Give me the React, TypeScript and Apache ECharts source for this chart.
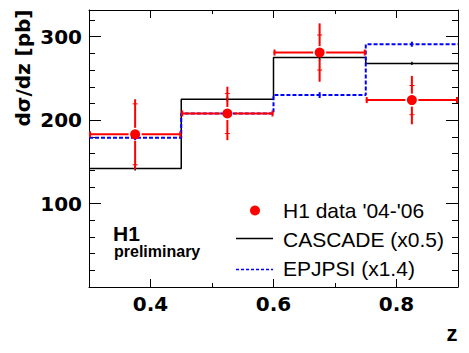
import React, { useEffect, useRef } from "react";
import * as echarts from "echarts";

// ---- data ----
const binEdges = [0.3, 0.45, 0.6, 0.75, 0.9];
const h1Values = [183, 208, 281, 224];
const h1Stat = [36.5, 24, 21, 17.5];
const h1Total = [42, 32, 35, 29];
const cascadeValues = [142, 225, 275, 268];
const cascadeErr = [2.5, 3, 3.5, 2];
const epjpsiValues = [179, 208, 230, 291];
const epjpsiErr = [3, 2.5, 3.5, 3];
const xMajorTicks = [0.4, 0.6, 0.8];
const xMinorTicks = [0.5, 0.7];
const yMajorTicks = [100, 200, 300];
const yMinorTicks = [20, 40, 60, 80, 120, 140, 160, 180, 220, 240, 260, 280, 320];
const legendLabels = ["H1 data '04-'06", "CASCADE (x0.5)", "EPJPSI (x1.4)"];

const X_MIN = 0.3;
const X_MAX = 0.9;
const Y_MIN = 0;
const Y_MAX = 332;

const stepData = (vals: number[]) =>
  binEdges.map((x, i) => [x, vals[Math.min(i, vals.length - 1)]]);

const binData = (vals: number[], e1: number[], e2?: number[]) =>
  vals.map((v, i) => [binEdges[i], binEdges[i + 1], v, e1[i], e2 ? e2[i] : 0]);

const RED = "#ff0000";
const BLUE = "#0000ff";
const NUM_FONT = "DejaVu Sans";
const TXT_FONT = "Liberation Sans";

function makeXAxis(position: "top" | "bottom", ticks: number[], len: number, labels: boolean, line: boolean) {
  return {
    type: "value",
    position,
    min: X_MIN,
    max: X_MAX,
    axisLine: { show: line, onZero: false, lineStyle: { color: "#000", width: 1 } },
    axisTick: { show: true, inside: true, length: len, customValues: ticks, lineStyle: { color: "#000", width: 1 } },
    axisLabel: labels
      ? {
          show: true,
          customValues: ticks,
          formatter: (v: number) => v.toFixed(1),
          color: "#000",
          fontFamily: NUM_FONT,
          fontWeight: "bold",
          fontSize: 20,
          margin: 7,
        }
      : { show: false },
    splitLine: { show: false },
    minorTick: { show: false },
  };
}

function makeYAxis(position: "left" | "right", ticks: number[], len: number, labels: boolean, line: boolean) {
  return {
    type: "value",
    position,
    min: Y_MIN,
    max: Y_MAX,
    axisLine: { show: line, onZero: false, lineStyle: { color: "#000", width: 1 } },
    axisTick: { show: true, inside: true, length: len, customValues: ticks, lineStyle: { color: "#000", width: 1 } },
    axisLabel: labels
      ? {
          show: true,
          customValues: ticks,
          formatter: (v: number) => String(v),
          color: "#000",
          fontFamily: NUM_FONT,
          fontWeight: "bold",
          fontSize: 20,
          margin: 7,
        }
      : { show: false },
    splitLine: { show: false },
    minorTick: { show: false },
  };
}

function h1RenderItem(params: any, api: any) {
  const lo = api.value(0);
  const hi = api.value(1);
  const v = api.value(2);
  const stat = api.value(3);
  const tot = api.value(4);
  const c = (lo + hi) / 2;
  const pL = api.coord([lo, v]);
  const pR = api.coord([hi, v]);
  const pC = api.coord([c, v]);
  const pT = api.coord([c, v + tot]);
  const pB = api.coord([c, v - tot]);
  const sT = api.coord([c, v + stat]);
  const sB = api.coord([c, v - stat]);
  const gap = 6.5;
  const st = { stroke: RED, lineWidth: 2 };
  const thin = { stroke: RED, lineWidth: 1 };
  return {
    type: "group",
    children: [
      { type: "line", shape: { x1: pL[0], y1: pC[1], x2: pC[0] - gap, y2: pC[1] }, style: st },
      { type: "line", shape: { x1: pC[0] + gap, y1: pC[1], x2: pR[0], y2: pC[1] }, style: st },
      { type: "line", shape: { x1: pL[0] + 1, y1: pC[1] - 3, x2: pL[0] + 1, y2: pC[1] + 3 }, style: st },
      { type: "line", shape: { x1: pR[0] - 1, y1: pC[1] - 3, x2: pR[0] - 1, y2: pC[1] + 3 }, style: st },
      { type: "line", shape: { x1: pC[0], y1: pT[1], x2: pC[0], y2: pC[1] - gap }, style: st },
      { type: "line", shape: { x1: pC[0], y1: pC[1] + gap, x2: pC[0], y2: pB[1] }, style: st },
      { type: "line", shape: { x1: pC[0] - 2.5, y1: sT[1], x2: pC[0] + 2.5, y2: sT[1] }, style: thin },
      { type: "line", shape: { x1: pC[0] - 2.5, y1: sB[1], x2: pC[0] + 2.5, y2: sB[1] }, style: thin },
      { type: "circle", shape: { cx: pC[0], cy: pC[1], r: 5 }, style: { fill: RED } },
    ],
  };
}

function mcErrRender(color: string, width: number) {
  return (params: any, api: any) => {
    const lo = api.value(0);
    const hi = api.value(1);
    const v = api.value(2);
    const e = api.value(3);
    const c = (lo + hi) / 2;
    const a = api.coord([c, v + e]);
    const b = api.coord([c, v - e]);
    return {
      type: "line",
      shape: { x1: a[0], y1: a[1], x2: b[0], y2: b[1] },
      style: { stroke: color, lineWidth: width },
    };
  };
}

export default function App() {
  const ref = useRef<HTMLDivElement>(null);

  useEffect(() => {
    if (!ref.current) return;
    const chart = echarts.init(ref.current, null, { renderer: "svg" });
    const option: any = {
      animation: false,
      backgroundColor: "#ffffff",
      grid: { left: 89, right: 11, top: 10, bottom: 66, containLabel: false },
      xAxis: [
        makeXAxis("bottom", xMajorTicks, 8, true, true),
        makeXAxis("bottom", xMinorTicks, 4, false, false),
        makeXAxis("top", xMajorTicks, 8, false, true),
        makeXAxis("top", xMinorTicks, 4, false, false),
      ],
      yAxis: [
        makeYAxis("left", yMajorTicks, 12, true, true),
        makeYAxis("left", yMinorTicks, 6, false, false),
        makeYAxis("right", yMajorTicks, 12, false, true),
        makeYAxis("right", yMinorTicks, 6, false, false),
      ],
      series: [
        {
          name: "CASCADE (x0.5)",
          type: "line",
          step: "end",
          data: stepData(cascadeValues),
          symbol: "none",
          lineStyle: { color: "#000", width: 1.5 },
          z: 2,
        },
        {
          name: "CASCADE err",
          type: "custom",
          data: binData(cascadeValues, cascadeErr),
          renderItem: mcErrRender("#000", 1.5),
          z: 2,
        },
        {
          name: "EPJPSI (x1.4)",
          type: "line",
          step: "end",
          data: stepData(epjpsiValues),
          symbol: "none",
          lineStyle: { color: BLUE, width: 2, type: [4, 2] },
          z: 3,
        },
        {
          name: "EPJPSI err",
          type: "custom",
          data: binData(epjpsiValues, epjpsiErr),
          renderItem: mcErrRender(BLUE, 2),
          z: 3,
        },
        {
          name: "H1 data '04-'06",
          type: "custom",
          data: binData(h1Values, h1Stat, h1Total),
          renderItem: h1RenderItem,
          z: 4,
        },
      ],
      graphic: [
        {
          type: "text",
          x: 23,
          y: 68,
          rotation: Math.PI / 2,
          style: {
            text: "dσ/dz [pb]",
            font: `bold 20px "${NUM_FONT}"`,
            fill: "#000",
            align: "center",
            verticalAlign: "middle",
          },
        },
        {
          type: "text",
          x: 452,
          y: 333,
          style: {
            text: "z",
            font: `bold 22px "${TXT_FONT}"`,
            fill: "#000",
            align: "center",
            verticalAlign: "middle",
          },
        },
        {
          type: "text",
          x: 113,
          y: 233.5,
          style: {
            text: "H1",
            font: `bold 21px "${TXT_FONT}"`,
            lineHeight: 17,
            fill: "#000",
            align: "left",
            verticalAlign: "middle",
          },
        },
        {
          type: "text",
          x: 114,
          y: 251.5,
          style: {
            text: "preliminary",
            font: `bold 16px "${TXT_FONT}"`,
            lineHeight: 15,
            fill: "#000",
            align: "left",
            verticalAlign: "middle",
          },
        },
        { type: "circle", shape: { cx: 255, cy: 210.5, r: 5 }, style: { fill: RED } },
        {
          type: "text",
          x: 283,
          y: 210.7,
          style: { text: legendLabels[0], font: `21px "${TXT_FONT}"`, fill: "#000", align: "left", verticalAlign: "middle" },
        },
        { type: "line", shape: { x1: 236, y1: 238.5, x2: 273, y2: 238.5 }, style: { stroke: "#000", lineWidth: 1.5 } },
        {
          type: "text",
          x: 283,
          y: 239,
          style: { text: legendLabels[1], font: `21px "${TXT_FONT}"`, fill: "#000", align: "left", verticalAlign: "middle" },
        },
        {
          type: "line",
          shape: { x1: 236, y1: 269.5, x2: 273, y2: 269.5 },
          style: { stroke: BLUE, lineWidth: 1.5, lineDash: [3, 2] },
        },
        {
          type: "text",
          x: 283,
          y: 268.7,
          style: { text: legendLabels[2], font: `21px "${TXT_FONT}"`, fill: "#000", align: "left", verticalAlign: "middle" },
        },
      ],
    };
    chart.setOption(option);
    return () => chart.dispose();
  }, []);

  return (
    <div
      ref={ref}
      style={{ position: "absolute", left: 0, top: 0, width: 469, height: 353, background: "#fff" }}
    />
  );
}
